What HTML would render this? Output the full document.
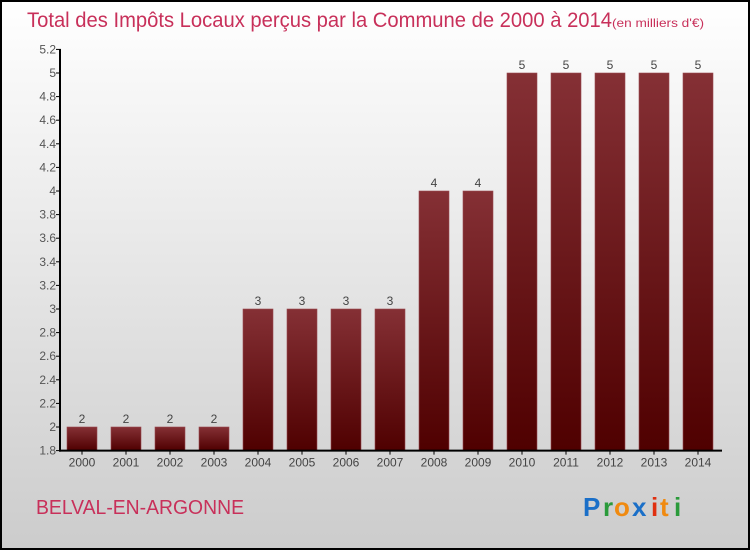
<!DOCTYPE html>
<html><head><meta charset="utf-8"><style>
body{margin:0;width:750px;height:550px;overflow:hidden}
</style></head><body>
<svg width="750" height="550" xmlns="http://www.w3.org/2000/svg" font-family="'Liberation Sans', sans-serif">
<defs>
<linearGradient id="bg" x1="0" y1="0" x2="0" y2="1"><stop offset="0" stop-color="#ffffff"/><stop offset="1" stop-color="#cccccc"/></linearGradient>
<linearGradient id="bar" x1="0" y1="0" x2="0" y2="1"><stop offset="0" stop-color="#853035"/><stop offset="1" stop-color="#4f0000"/></linearGradient>
</defs>
<rect x="1" y="1" width="748" height="548" fill="url(#bg)" stroke="#000" stroke-width="2"/>
<text x="27" y="27" font-size="21" fill="#c8305a"><tspan textLength="585" lengthAdjust="spacingAndGlyphs">Total des Impôts Locaux perçus par la Commune de 2000 à 2014</tspan><tspan font-size="12" textLength="92" lengthAdjust="spacingAndGlyphs">(en milliers d'€)</tspan></text>
<g id="yaxis"></g>
<g id="bars"></g>
<g id="xaxis"></g>
<text x="36" y="514" font-size="20" fill="#c8305a" textLength="208" lengthAdjust="spacingAndGlyphs">BELVAL-EN-ARGONNE</text>
<g font-size="26" font-weight="bold">
<text x="583" y="516" fill="#1a6fc8">P</text><text x="603" y="516" fill="#2a9a3a">r</text><text x="614" y="516" fill="#f08a10">o</text><text x="632" y="516" fill="#1a6fc8">x</text><text x="651" y="516" fill="#e03010">i</text><text x="660" y="516" fill="#f08a10">t</text><text x="674" y="516" fill="#2a9a3a">i</text>
</g>
</svg>
<script>
const years=["2000","2001","2002","2003","2004","2005","2006","2007","2008","2009","2010","2011","2012","2013","2014"];
const values=[2,2,2,2,3,3,3,3,4,4,5,5,5,5,5];
const yTicks=[1.8,2,2.2,2.4,2.6,2.8,3,3.2,3.4,3.6,3.8,4,4.2,4.4,4.6,4.8,5,5.2];
const NS="http://www.w3.org/2000/svg";
const y0=450.6,ymin=1.8,ppu=118;
const y=v=>y0-(v-ymin)*ppu;
const x=i=>67+i*44;
function mk(t,a,p){const e=document.createElementNS(NS,t);for(const k in a)e.setAttribute(k,a[k]);p.appendChild(e);return e;}
const ya=document.getElementById('yaxis'),ba=document.getElementById('bars'),xa=document.getElementById('xaxis');
const yl=mk('line',{x1:60,y1:y(5.2),x2:60,y2:y0+1,stroke:'#000','stroke-width':2},ya);


yTicks.forEach(t=>{
 const tk=mk('line',{x1:56,x2:61,y1:y(t),y2:y(t),stroke:'#000'},ya);
 
 
 const tx=mk('text',{x:56,y:y(t)+4,'text-anchor':'end','font-size':12,fill:'#555'},ya);
 tx.textContent=String(t);
 
 
});
values.forEach((v,i)=>{
 const r=mk('rect',{x:x(i),y:y(v),width:30,height:y0-y(v),fill:'url(#bar)',stroke:'#9a4a50','stroke-width':0.6},ba);
 
 
 const l=mk('text',{x:x(i)+15,y:y(v)-4,'text-anchor':'middle','font-size':12,fill:'#444'},ba);
 l.textContent=String(v);
 
 
 const tk=mk('line',{x1:x(i)+15,x2:x(i)+15,y1:y0,y2:y0+4,stroke:'#000'},xa);
 
 
 const xl=mk('text',{x:x(i)+15,y:y0+16,'text-anchor':'middle','font-size':12,fill:'#444'},xa);
 xl.textContent=years[i];
 
 
});
const xl=mk('line',{x1:59,x2:722,y1:y0,y2:y0,stroke:'#000','stroke-width':2},xa);


</script>
</body></html>
